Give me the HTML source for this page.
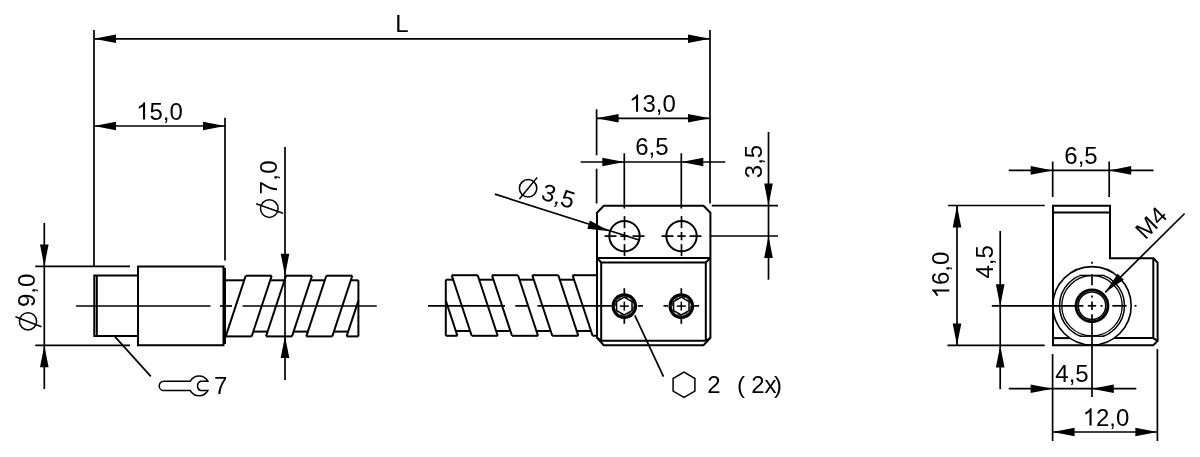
<!DOCTYPE html>
<html><head><meta charset="utf-8"><style>
html,body{margin:0;padding:0;background:#fff;}
svg{display:block;will-change:transform;}
text{font-family:"Liberation Sans",sans-serif;fill:#000;stroke:none;}
</style></head><body>
<svg width="1200" height="457" viewBox="0 0 1200 457">
<g stroke="#000" fill="none" stroke-linecap="butt">
<line x1="94.00" y1="30.00" x2="94.00" y2="266.40" stroke-width="1.7"/>
<line x1="710.00" y1="30.00" x2="710.00" y2="203.50" stroke-width="1.7"/>
<line x1="94.00" y1="38.80" x2="710.00" y2="38.80" stroke-width="1.7"/>
<polygon points="94.00,38.80 116.00,43.10 116.00,34.50" fill="#000" stroke="none"/>
<polygon points="710.00,38.80 688.00,34.50 688.00,43.10" fill="#000" stroke="none"/>
<text x="402.00" y="32.30" font-size="24" text-anchor="middle" >L</text>
<line x1="225.00" y1="117.70" x2="225.00" y2="260.50" stroke-width="1.7"/>
<line x1="94.00" y1="126.00" x2="225.00" y2="126.00" stroke-width="1.7"/>
<polygon points="94.00,126.00 116.00,130.30 116.00,121.70" fill="#000" stroke="none"/>
<polygon points="225.00,126.00 203.00,121.70 203.00,130.30" fill="#000" stroke="none"/>
<path d="M763,0 H583 V1147 C540,1106 483,1064 413,1023 C343,982 280,951 224,930 V1104 C325,1151 413,1209 488,1276 C563,1343 616,1409 647,1472 H763 Z" fill="#000" stroke="none" transform="translate(136.14 119.60) rotate(0) scale(0.01172 -0.01172)"/>
<text x="159.50" y="119.60" font-size="24" text-anchor="middle" ><tspan fill="transparent">1</tspan>5,0</text>
<line x1="44.30" y1="223.00" x2="44.30" y2="389.00" stroke-width="1.7"/>
<line x1="35.30" y1="266.40" x2="130.00" y2="266.40" stroke-width="1.7"/>
<line x1="35.30" y1="345.30" x2="130.00" y2="345.30" stroke-width="1.7"/>
<polygon points="44.30,266.40 48.60,244.40 40.00,244.40" fill="#000" stroke="none"/>
<polygon points="44.30,345.30 40.00,367.30 48.60,367.30" fill="#000" stroke="none"/>
<line x1="285.00" y1="147.10" x2="285.00" y2="380.00" stroke-width="1.7"/>
<polygon points="285.00,275.70 289.30,253.70 280.70,253.70" fill="#000" stroke="none"/>
<polygon points="285.00,336.10 280.70,358.10 289.30,358.10" fill="#000" stroke="none"/>
<line x1="76.00" y1="306.00" x2="210.50" y2="306.00" stroke-width="1.7"/>
<line x1="220.00" y1="306.00" x2="232.00" y2="306.00" stroke-width="1.7"/>
<line x1="242.50" y1="306.00" x2="376.70" y2="306.00" stroke-width="1.7"/>
<polyline points="138.00,275.60 94.30,275.60 94.30,336.10 138.00,336.10" fill="none" stroke-width="2.0"/>
<line x1="96.80" y1="275.60" x2="96.80" y2="336.10" stroke-width="2.0"/>
<polygon points="138.00,266.50 223.50,266.50 223.50,345.30 138.00,345.30" fill="none" stroke-width="2.0"/>
<line x1="225.00" y1="268.00" x2="225.00" y2="344.00" stroke-width="2.0"/>
<line x1="225.70" y1="336.40" x2="251.70" y2="336.40" stroke-width="2.0"/>
<line x1="245.70" y1="275.70" x2="271.70" y2="275.70" stroke-width="2.0"/>
<line x1="225.70" y1="336.40" x2="245.70" y2="275.70" stroke-width="2.0"/>
<line x1="251.70" y1="336.40" x2="271.70" y2="275.70" stroke-width="2.0"/>
<line x1="270.18" y1="280.30" x2="284.48" y2="280.30" stroke-width="2.0"/>
<line x1="253.28" y1="331.60" x2="267.58" y2="331.60" stroke-width="2.0"/>
<line x1="266.00" y1="336.40" x2="292.00" y2="336.40" stroke-width="2.0"/>
<line x1="286.00" y1="275.70" x2="312.00" y2="275.70" stroke-width="2.0"/>
<line x1="266.00" y1="336.40" x2="286.00" y2="275.70" stroke-width="2.0"/>
<line x1="292.00" y1="336.40" x2="312.00" y2="275.70" stroke-width="2.0"/>
<line x1="310.48" y1="280.30" x2="324.78" y2="280.30" stroke-width="2.0"/>
<line x1="293.58" y1="331.60" x2="307.88" y2="331.60" stroke-width="2.0"/>
<line x1="306.30" y1="336.40" x2="332.30" y2="336.40" stroke-width="2.0"/>
<line x1="326.30" y1="275.70" x2="352.30" y2="275.70" stroke-width="2.0"/>
<line x1="306.30" y1="336.40" x2="326.30" y2="275.70" stroke-width="2.0"/>
<line x1="332.30" y1="336.40" x2="352.30" y2="275.70" stroke-width="2.0"/>
<line x1="350.78" y1="280.30" x2="358.40" y2="280.30" stroke-width="2.0"/>
<line x1="333.88" y1="331.60" x2="348.18" y2="331.60" stroke-width="2.0"/>
<line x1="346.60" y1="336.40" x2="358.40" y2="336.40" stroke-width="2.0"/>
<line x1="346.60" y1="336.40" x2="358.40" y2="300.59" stroke-width="2.0"/>
<line x1="225.00" y1="280.30" x2="244.18" y2="280.30" stroke-width="2.0"/>
<line x1="358.40" y1="280.30" x2="358.40" y2="336.40" stroke-width="2.0"/>
<line x1="114.90" y1="336.60" x2="150.80" y2="376.40" stroke-width="1.7"/>
<path d="M190.3,381.2 L163.9,381.2 A4.7,4.7 0 0 0 163.9,390.6 L190.3,390.6 A10,10 0 0 0 207.8,390.6 L200.5,390.6 A5.2,5.2 0 0 1 200.5,381.2 L207.8,381.2 A10,10 0 0 0 190.3,381.2 Z" fill="none" stroke-width="1.5"/>
<text x="214.00" y="393.50" font-size="24" text-anchor="start" >7</text>
<line x1="445.80" y1="335.80" x2="457.40" y2="335.80" stroke-width="2.0"/>
<line x1="445.80" y1="300.65" x2="457.40" y2="335.80" stroke-width="2.0"/>
<line x1="445.80" y1="279.70" x2="453.19" y2="279.70" stroke-width="2.0"/>
<line x1="455.82" y1="331.00" x2="470.12" y2="331.00" stroke-width="2.0"/>
<line x1="451.70" y1="275.20" x2="477.70" y2="275.20" stroke-width="2.0"/>
<line x1="471.70" y1="335.80" x2="497.70" y2="335.80" stroke-width="2.0"/>
<line x1="451.70" y1="275.20" x2="471.70" y2="335.80" stroke-width="2.0"/>
<line x1="477.70" y1="275.20" x2="497.70" y2="335.80" stroke-width="2.0"/>
<line x1="479.19" y1="279.70" x2="493.49" y2="279.70" stroke-width="2.0"/>
<line x1="496.12" y1="331.00" x2="510.42" y2="331.00" stroke-width="2.0"/>
<line x1="492.00" y1="275.20" x2="518.00" y2="275.20" stroke-width="2.0"/>
<line x1="512.00" y1="335.80" x2="538.00" y2="335.80" stroke-width="2.0"/>
<line x1="492.00" y1="275.20" x2="512.00" y2="335.80" stroke-width="2.0"/>
<line x1="518.00" y1="275.20" x2="538.00" y2="335.80" stroke-width="2.0"/>
<line x1="519.49" y1="279.70" x2="533.79" y2="279.70" stroke-width="2.0"/>
<line x1="536.42" y1="331.00" x2="550.72" y2="331.00" stroke-width="2.0"/>
<line x1="532.30" y1="275.20" x2="558.30" y2="275.20" stroke-width="2.0"/>
<line x1="552.30" y1="335.80" x2="578.30" y2="335.80" stroke-width="2.0"/>
<line x1="532.30" y1="275.20" x2="552.30" y2="335.80" stroke-width="2.0"/>
<line x1="558.30" y1="275.20" x2="578.30" y2="335.80" stroke-width="2.0"/>
<line x1="559.79" y1="279.70" x2="574.09" y2="279.70" stroke-width="2.0"/>
<line x1="576.72" y1="331.00" x2="591.02" y2="331.00" stroke-width="2.0"/>
<line x1="572.60" y1="275.20" x2="597.00" y2="275.20" stroke-width="2.0"/>
<line x1="592.60" y1="335.80" x2="597.00" y2="335.80" stroke-width="2.0"/>
<line x1="572.60" y1="275.20" x2="592.60" y2="335.80" stroke-width="2.0"/>
<line x1="445.80" y1="279.70" x2="445.80" y2="335.80" stroke-width="2.0"/>
<line x1="428.00" y1="305.90" x2="505.00" y2="305.90" stroke-width="1.7"/>
<line x1="515.30" y1="305.90" x2="527.50" y2="305.90" stroke-width="1.7"/>
<line x1="537.50" y1="305.90" x2="611.60" y2="305.90" stroke-width="1.7"/>
<line x1="637.80" y1="305.90" x2="643.00" y2="305.90" stroke-width="1.7"/>
<line x1="663.50" y1="305.90" x2="668.00" y2="305.90" stroke-width="1.7"/>
<line x1="694.00" y1="305.90" x2="699.10" y2="305.90" stroke-width="1.7"/>
<polygon points="597.00,212.70 603.80,205.70 703.50,205.70 710.40,212.70 710.40,337.80 703.50,345.20 603.70,345.20 597.00,337.60" fill="none" stroke-width="2.0"/>
<line x1="597.00" y1="258.00" x2="710.40" y2="258.00" stroke-width="2.0"/>
<polyline points="601.20,340.80 601.20,262.50 705.80,262.50 705.80,340.80" fill="none" stroke-width="2.0"/>
<line x1="601.20" y1="340.80" x2="705.80" y2="340.80" stroke-width="2.0"/>
<line x1="597.00" y1="258.00" x2="601.20" y2="262.50" stroke-width="2.0"/>
<line x1="710.40" y1="258.00" x2="705.80" y2="262.50" stroke-width="2.0"/>
<line x1="597.00" y1="337.60" x2="601.20" y2="340.80" stroke-width="2.0"/>
<line x1="710.40" y1="337.80" x2="705.80" y2="340.80" stroke-width="2.0"/>
<line x1="596.60" y1="109.30" x2="596.60" y2="155.30" stroke-width="1.7"/>
<line x1="596.60" y1="168.70" x2="596.60" y2="203.50" stroke-width="1.7"/>
<line x1="596.60" y1="118.30" x2="710.00" y2="118.30" stroke-width="1.7"/>
<polygon points="596.60,118.30 618.60,122.60 618.60,114.00" fill="#000" stroke="none"/>
<polygon points="710.00,118.30 688.00,114.00 688.00,122.60" fill="#000" stroke="none"/>
<path d="M763,0 H583 V1147 C540,1106 483,1064 413,1023 C343,982 280,951 224,930 V1104 C325,1151 413,1209 488,1276 C563,1343 616,1409 647,1472 H763 Z" fill="#000" stroke="none" transform="translate(629.14 111.70) rotate(0) scale(0.01172 -0.01172)"/>
<text x="652.50" y="111.70" font-size="24" text-anchor="middle" ><tspan fill="transparent">1</tspan>3,0</text>
<line x1="580.70" y1="162.00" x2="725.30" y2="162.00" stroke-width="1.7"/>
<polygon points="624.30,162.00 602.30,157.70 602.30,166.30" fill="#000" stroke="none"/>
<polygon points="681.30,162.00 703.30,166.30 703.30,157.70" fill="#000" stroke="none"/>
<line x1="624.30" y1="153.30" x2="624.30" y2="208.50" stroke-width="1.7"/>
<line x1="681.30" y1="153.30" x2="681.30" y2="208.50" stroke-width="1.7"/>
<text x="651.90" y="155.30" font-size="24" text-anchor="middle" >6,5</text>
<line x1="768.50" y1="131.90" x2="768.50" y2="279.70" stroke-width="1.7"/>
<line x1="711.80" y1="205.60" x2="778.00" y2="205.60" stroke-width="1.7"/>
<line x1="710.80" y1="236.00" x2="778.00" y2="236.00" stroke-width="1.7"/>
<polygon points="768.50,205.60 772.80,183.60 764.20,183.60" fill="#000" stroke="none"/>
<polygon points="768.50,236.00 764.20,258.00 772.80,258.00" fill="#000" stroke="none"/>
<text x="762.40" y="161.50" font-size="24" text-anchor="middle" transform="rotate(-90 762.40 161.50)" >3,5</text>
<circle cx="624.50" cy="236.10" r="15.20" fill="none" stroke-width="2.0" />
<line x1="624.50" y1="216.10" x2="624.50" y2="228.10" stroke-width="1.7"/>
<line x1="604.50" y1="236.10" x2="616.50" y2="236.10" stroke-width="1.7"/>
<line x1="624.50" y1="231.90" x2="624.50" y2="240.30" stroke-width="1.7"/>
<line x1="620.30" y1="236.10" x2="628.70" y2="236.10" stroke-width="1.7"/>
<line x1="624.50" y1="244.10" x2="624.50" y2="256.10" stroke-width="1.7"/>
<line x1="632.50" y1="236.10" x2="644.50" y2="236.10" stroke-width="1.7"/>
<circle cx="681.50" cy="236.10" r="15.20" fill="none" stroke-width="2.0" />
<line x1="681.50" y1="216.10" x2="681.50" y2="228.10" stroke-width="1.7"/>
<line x1="661.50" y1="236.10" x2="673.50" y2="236.10" stroke-width="1.7"/>
<line x1="681.50" y1="231.90" x2="681.50" y2="240.30" stroke-width="1.7"/>
<line x1="677.30" y1="236.10" x2="685.70" y2="236.10" stroke-width="1.7"/>
<line x1="681.50" y1="244.10" x2="681.50" y2="256.10" stroke-width="1.7"/>
<line x1="689.50" y1="236.10" x2="701.50" y2="236.10" stroke-width="1.7"/>
<line x1="494.90" y1="194.10" x2="639.00" y2="240.00" stroke-width="1.7"/>
<polygon points="609.60,231.20 589.90,220.50 587.32,228.70" fill="#000" stroke="none"/>
<circle cx="624.30" cy="306.10" r="11.20" fill="none" stroke-width="3.2" />
<circle cx="624.30" cy="306.10" r="9.00" fill="none" stroke-width="0.9" stroke-dasharray="4 3"/>
<polygon points="624.30,297.20 632.01,301.65 632.01,310.55 624.30,315.00 616.59,310.55 616.59,301.65" fill="none" stroke-width="1.5"/>
<line x1="619.80" y1="306.10" x2="628.80" y2="306.10" stroke-width="1.5"/>
<line x1="624.30" y1="301.60" x2="624.30" y2="310.60" stroke-width="1.5"/>
<line x1="624.30" y1="288.20" x2="624.30" y2="294.60" stroke-width="1.7"/>
<line x1="624.30" y1="317.60" x2="624.30" y2="323.80" stroke-width="1.7"/>
<circle cx="681.30" cy="306.10" r="11.20" fill="none" stroke-width="3.2" />
<circle cx="681.30" cy="306.10" r="9.00" fill="none" stroke-width="0.9" stroke-dasharray="4 3"/>
<polygon points="681.30,297.20 689.01,301.65 689.01,310.55 681.30,315.00 673.59,310.55 673.59,301.65" fill="none" stroke-width="1.5"/>
<line x1="676.80" y1="306.10" x2="685.80" y2="306.10" stroke-width="1.5"/>
<line x1="681.30" y1="301.60" x2="681.30" y2="310.60" stroke-width="1.5"/>
<line x1="681.30" y1="288.20" x2="681.30" y2="294.60" stroke-width="1.7"/>
<line x1="681.30" y1="317.60" x2="681.30" y2="323.80" stroke-width="1.7"/>
<line x1="634.80" y1="315.30" x2="663.50" y2="376.70" stroke-width="1.7"/>
<polygon points="684.00,372.20 694.91,378.50 694.91,391.10 684.00,397.40 673.09,391.10 673.09,378.50" fill="none" stroke-width="1.5"/>
<text x="707.30" y="392.60" font-size="24" text-anchor="start" >2</text>
<text x="737.00" y="392.60" font-size="24" text-anchor="start" >(</text>
<text x="751.20" y="392.60" font-size="24" text-anchor="start" >2x</text>
<text x="774.10" y="392.60" font-size="24" text-anchor="start" >)</text>
<polygon points="1053.00,205.70 1110.00,205.70 1110.00,258.20 1153.50,258.20 1157.60,262.60 1157.60,340.90 1153.30,345.20 1053.00,345.20" fill="none" stroke-width="2.0"/>
<line x1="1053.00" y1="212.50" x2="1110.00" y2="212.50" stroke-width="2.0"/>
<line x1="1153.30" y1="258.20" x2="1153.30" y2="338.10" stroke-width="2.0"/>
<line x1="1053.00" y1="338.10" x2="1069.80" y2="338.10" stroke-width="2.0"/>
<line x1="1114.20" y1="338.10" x2="1153.30" y2="338.10" stroke-width="2.0"/>
<line x1="1153.30" y1="338.10" x2="1157.60" y2="340.90" stroke-width="2.0"/>
<circle cx="1092.00" cy="305.80" r="39.20" fill="none" stroke-width="1.6" />
<clipPath id="hx"><rect x="1040" y="275.40000000000003" width="120" height="60.8"/></clipPath>
<g clip-path="url(#hx)">
<circle cx="1092.00" cy="305.80" r="32.50" fill="none" stroke-width="1.5" />
<circle cx="1092.00" cy="305.80" r="30.20" fill="none" stroke-width="1.3" />
</g>
<line x1="1079.40" y1="275.40" x2="1104.60" y2="275.40" stroke-width="1.4"/>
<line x1="1079.40" y1="336.20" x2="1104.60" y2="336.20" stroke-width="1.4"/>
<circle cx="1092.00" cy="305.80" r="16.00" fill="none" stroke-width="2.8" />
<circle cx="1092.00" cy="305.80" r="13.80" fill="none" stroke-width="1.6" />
<line x1="991.80" y1="305.80" x2="1083.40" y2="305.80" stroke-width="1.7"/>
<line x1="1087.80" y1="305.80" x2="1096.20" y2="305.80" stroke-width="1.7"/>
<line x1="1092.00" y1="301.60" x2="1092.00" y2="310.00" stroke-width="1.7"/>
<line x1="1100.50" y1="305.80" x2="1102.50" y2="305.80" stroke-width="1.7"/>
<line x1="1112.30" y1="305.80" x2="1126.60" y2="305.80" stroke-width="1.7"/>
<line x1="1134.50" y1="305.80" x2="1136.50" y2="305.80" stroke-width="1.7"/>
<line x1="1092.00" y1="261.70" x2="1092.00" y2="263.70" stroke-width="1.7"/>
<line x1="1092.00" y1="274.20" x2="1092.00" y2="285.20" stroke-width="1.7"/>
<line x1="1092.00" y1="295.60" x2="1092.00" y2="297.60" stroke-width="1.7"/>
<line x1="1092.00" y1="314.20" x2="1092.00" y2="397.00" stroke-width="1.7"/>
<line x1="1105.20" y1="292.30" x2="1184.60" y2="213.50" stroke-width="1.7"/>
<polygon points="1105.20,292.30 1123.80,279.78 1117.72,273.70" fill="#000" stroke="none"/>
<text x="1145.20" y="240.50" font-size="24" text-anchor="start" transform="rotate(-45 1145.20 240.50)" >M4</text>
<line x1="1008.70" y1="170.40" x2="1153.50" y2="170.40" stroke-width="1.7"/>
<polygon points="1052.70,170.40 1030.70,166.10 1030.70,174.70" fill="#000" stroke="none"/>
<polygon points="1109.20,170.40 1131.20,174.70 1131.20,166.10" fill="#000" stroke="none"/>
<line x1="1052.70" y1="161.50" x2="1052.70" y2="197.00" stroke-width="1.7"/>
<line x1="1109.20" y1="161.50" x2="1109.20" y2="197.00" stroke-width="1.7"/>
<text x="1081.00" y="163.80" font-size="24" text-anchor="middle" >6,5</text>
<line x1="947.90" y1="205.50" x2="1044.70" y2="205.50" stroke-width="1.7"/>
<line x1="947.50" y1="345.40" x2="1044.60" y2="345.40" stroke-width="1.7"/>
<line x1="957.00" y1="205.50" x2="957.00" y2="345.40" stroke-width="1.7"/>
<polygon points="957.00,205.50 952.70,227.50 961.30,227.50" fill="#000" stroke="none"/>
<polygon points="957.00,345.40 961.30,323.40 952.70,323.40" fill="#000" stroke="none"/>
<path d="M763,0 H583 V1147 C540,1106 483,1064 413,1023 C343,982 280,951 224,930 V1104 C325,1151 413,1209 488,1276 C563,1343 616,1409 647,1472 H763 Z" fill="#000" stroke="none" transform="translate(949.30 298.36) rotate(-90) scale(0.01172 -0.01172)"/>
<text x="949.30" y="275.00" font-size="24" text-anchor="middle" transform="rotate(-90 949.30 275.00)" ><tspan fill="transparent">1</tspan>6,0</text>
<line x1="1000.20" y1="230.90" x2="1000.20" y2="389.10" stroke-width="1.7"/>
<polygon points="1000.20,306.20 1004.50,284.20 995.90,284.20" fill="#000" stroke="none"/>
<polygon points="1000.20,345.40 995.90,367.40 1004.50,367.40" fill="#000" stroke="none"/>
<text x="993.30" y="261.80" font-size="24" text-anchor="middle" transform="rotate(-90 993.30 261.80)" >4,5</text>
<line x1="1052.60" y1="354.10" x2="1052.60" y2="441.00" stroke-width="1.7"/>
<line x1="1157.40" y1="349.10" x2="1157.40" y2="441.00" stroke-width="1.7"/>
<line x1="1008.80" y1="388.70" x2="1136.30" y2="388.70" stroke-width="1.7"/>
<polygon points="1052.60,388.70 1030.60,384.40 1030.60,393.00" fill="#000" stroke="none"/>
<polygon points="1091.80,388.70 1113.80,393.00 1113.80,384.40" fill="#000" stroke="none"/>
<text x="1072.00" y="381.60" font-size="24" text-anchor="middle" >4,5</text>
<line x1="1052.60" y1="432.00" x2="1157.40" y2="432.00" stroke-width="1.7"/>
<polygon points="1052.60,432.00 1074.60,436.30 1074.60,427.70" fill="#000" stroke="none"/>
<polygon points="1157.40,432.00 1135.40,427.70 1135.40,436.30" fill="#000" stroke="none"/>
<path d="M763,0 H583 V1147 C540,1106 483,1064 413,1023 C343,982 280,951 224,930 V1104 C325,1151 413,1209 488,1276 C563,1343 616,1409 647,1472 H763 Z" fill="#000" stroke="none" transform="translate(1082.64 425.50) rotate(0) scale(0.01172 -0.01172)"/>
<text x="1106.00" y="425.50" font-size="24" text-anchor="middle" ><tspan fill="transparent">1</tspan>2,0</text>
<circle cx="28.00" cy="321.30" r="8.60" fill="none" stroke-width="1.5" />
<line x1="15.40" y1="316.70" x2="41.40" y2="326.70" stroke-width="1.5"/>
<text x="35.00" y="307.00" font-size="24" text-anchor="start" transform="rotate(-90 35.00 307.00)" >9,0</text>
<circle cx="269.30" cy="208.60" r="8.80" fill="none" stroke-width="1.5" />
<line x1="256.10" y1="203.70" x2="283.00" y2="213.20" stroke-width="1.5"/>
<text x="276.60" y="194.50" font-size="24" text-anchor="start" transform="rotate(-90 276.60 194.50)" letter-spacing="0.4">7,0</text>
<circle cx="528.10" cy="188.30" r="8.70" fill="none" stroke-width="1.5" />
<line x1="519.40" y1="199.00" x2="537.10" y2="177.40" stroke-width="1.5"/>
<text x="540.00" y="199.00" font-size="24" text-anchor="start" transform="rotate(17.5 540.00 199.00)" >3,5</text>
</g>
</svg>
</body></html>
